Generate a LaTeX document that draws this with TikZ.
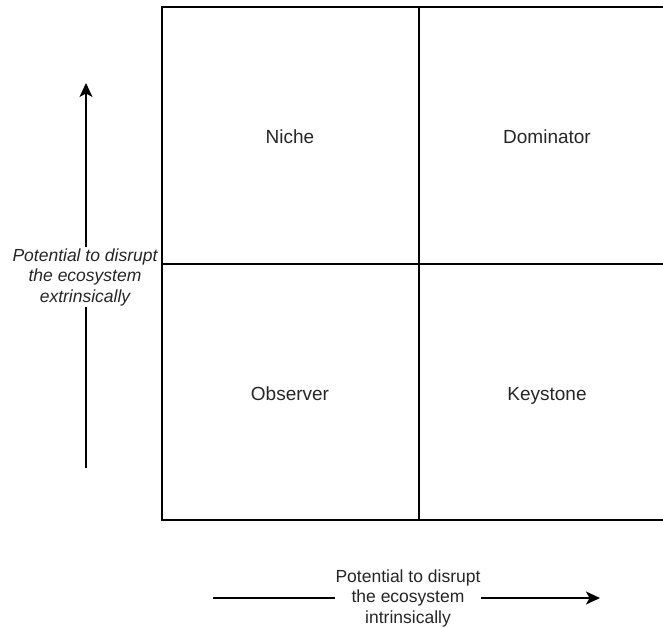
\documentclass[tikz,border=0pt]{standalone}
\usepackage{fontspec}
\setmainfont{Liberation Sans}
\usetikzlibrary{arrows.meta}
\begin{document}
\begin{tikzpicture}[x=1pt,y=-1pt,
  gridline/.style={line width=1.4pt,black},
  axis/.style={line width=1.4pt,black,-{Stealth[length=14pt,width=13pt,inset=3.5pt]}},
  cell/.style={font=\fontsize{19}{22}\selectfont,text=black!85,anchor=base},
  axislabel/.style={font=\fontsize{17.5}{20.5}\selectfont,text=black!85,align=center,fill=white,inner sep=1pt}]
  \useasboundingbox (0,0) rectangle (663,628);
  \clip (0,0) rectangle (663,628);
  % quadrant grid
  \draw[gridline] (162,7) rectangle (676,520);
  \draw[gridline] (419,7) -- (419,520);
  \draw[gridline] (162,264) -- (676,264);
  % quadrant names
  \node[cell] (niche) at (290,144) {Niche};
  \node[cell] (dominator) at (547,144) {Dominator};
  \node[cell] (observer) at (290,400) {Observer};
  \node[cell] (keystone) at (547,400) {Keystone};
  % vertical axis
  \coordinate (vbot) at (86,468);
  \coordinate (vtop) at (86,83);
  \draw[axis] (vbot) -- (vtop);
  \node[axislabel,font=\fontsize{17.5}{20.5}\selectfont\itshape] (vlabel) at (85,277)
    {Potential to disrupt\\the ecosystem\\extrinsically};
  % horizontal axis
  \coordinate (hleft) at (213,598);
  \coordinate (hright) at (600,598);
  \draw[axis] (hleft) -- (hright);
  \node[axislabel] (hlabel) at (408,598)
    {Potential to disrupt\\the ecosystem\\intrinsically};
\end{tikzpicture}
\end{document}
